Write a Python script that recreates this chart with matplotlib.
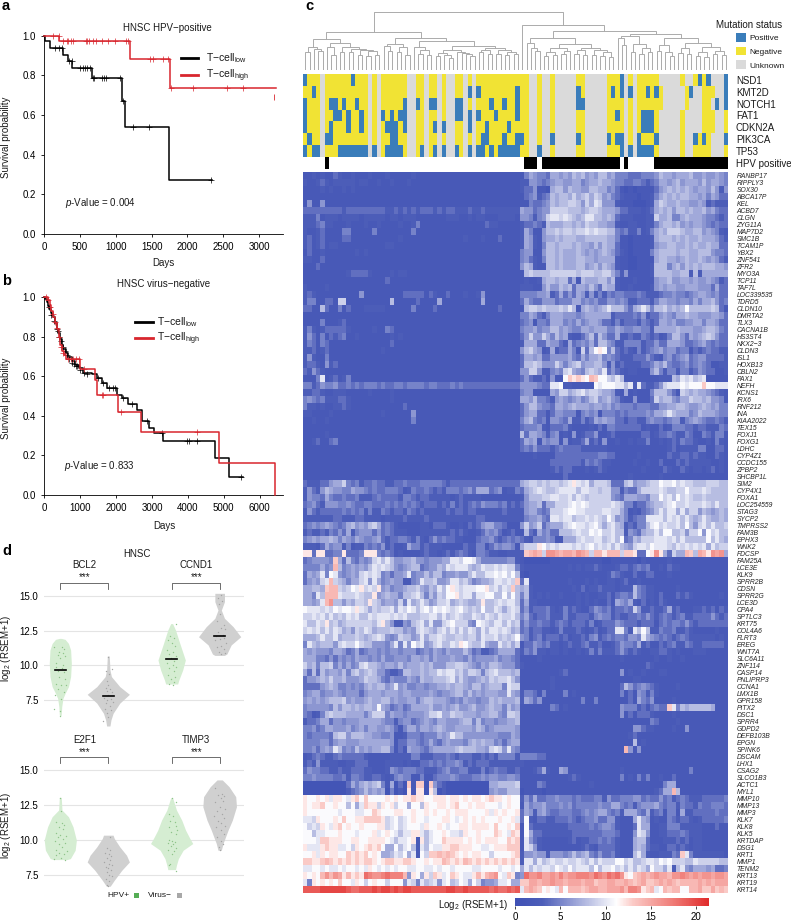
"""Four-panel HNSC figure: survival curves, mutation/expression heatmap, violins."""

from matplotlib.colors import LinearSegmentedColormap, ListedColormap
from matplotlib.cm import ScalarMappable
from matplotlib.colors import Normalize
from matplotlib.lines import Line2D
from matplotlib.patches import Rectangle
from matplotlib.transforms import Affine2D
import matplotlib
matplotlib.use("Agg")
import matplotlib.pyplot as plt
import numpy as np

plt.rcParams["font.family"] = ["Liberation Sans", "DejaVu Sans"]
plt.rcParams["mathtext.fontset"] = "custom"
plt.rcParams["mathtext.rm"] = "Liberation Sans"
plt.rcParams["mathtext.it"] = "Liberation Sans:italic"
plt.rcParams["mathtext.default"] = "regular"

W, H = 791, 921

# survival panel a
A_LOW_DAYS = [0, 10, 75, 265, 326, 391, 662, 1081, 1132, 1743, 2340]
A_LOW_SURV = [1.0, 0.971, 0.937, 0.905, 0.87, 0.835, 0.787, 0.673, 0.54, 0.27, 0.27]
A_LOW_CENS = [(149, 0.937), (210, 0.937), (252, 0.937), (345, 0.87), (382, 0.87), (499, 0.835),
              (536, 0.835), (573, 0.835), (601, 0.835), (638, 0.835), (675, 0.787), (694, 0.787),
              (801, 0.787), (834, 0.787), (862, 0.787), (1058, 0.787), (1104, 0.673),
              (1244, 0.54), (1463, 0.54), (2325, 0.27)]
A_HIGH_DAYS = [0, 210, 1197, 1757, 3239]
A_HIGH_SURV = [1.0, 0.975, 0.885, 0.738, 0.738]
A_HIGH_CENS = [(126, 1.0), (205, 1.0), (265, 0.975), (312, 0.975), (335, 0.975), (368, 0.975),
               (405, 0.975), (582, 0.975), (601, 0.975), (629, 0.975), (685, 0.975), (717, 0.975),
               (801, 0.975), (894, 0.975), (987, 0.975), (1141, 0.975), (1169, 0.975),
               (1476, 0.885), (1514, 0.885), (1663, 0.885), (1733, 0.885), (1770, 0.738),
               (2073, 0.738), (2557, 0.738), (2771, 0.738)]
A_STRAY_TICK = (3215, 0.69)

# survival panel b
B_LOW_DAYS = [0, 30, 70, 100, 140, 180, 220, 250, 300, 350, 390, 440, 490, 530, 600, 670, 760, 854,
              960, 1068, 1318, 1458, 1597, 1736, 2015, 2154, 2340, 2572, 2730, 2915, 3055, 3315,
              4754, 5153, 5543]
B_LOW_SURV = [1.0, 0.99, 0.975, 0.955, 0.94, 0.92, 0.91, 0.90, 0.87, 0.84, 0.82, 0.79, 0.76, 0.74,
              0.72, 0.70, 0.68, 0.66, 0.64, 0.615, 0.61, 0.59, 0.565, 0.54, 0.505, 0.49, 0.46,
              0.43, 0.375, 0.34, 0.313, 0.275, 0.185, 0.093, 0.093]
B_LOW_CENS = [(120, 0.95), (200, 0.91), (280, 0.88), (340, 0.84), (370, 0.83), (420, 0.80),
              (460, 0.78), (510, 0.75), (570, 0.73), (640, 0.71), (700, 0.69), (780, 0.67),
              (820, 0.665), (880, 0.655), (920, 0.65), (1000, 0.63), (1100, 0.615), (1200, 0.612),
              (1500, 0.59), (1640, 0.565), (1800, 0.54), (1900, 0.54), (1980, 0.54), (2200, 0.49),
              (2450, 0.46), (2850, 0.375), (3280, 0.313), (3980, 0.275), (4030, 0.275),
              (4260, 0.275), (5480, 0.093)]
B_HIGH_DAYS = [0, 100, 150, 200, 250, 300, 350, 400, 450, 500, 550, 600, 993, 1411, 1458, 2061,
               2702, 4865, 6425, 6425]
B_HIGH_SURV = [1.0, 0.985, 0.96, 0.93, 0.90, 0.87, 0.84, 0.80, 0.76, 0.73, 0.71, 0.69, 0.637,
               0.583, 0.506, 0.422, 0.317, 0.16, 0.16, 0.0]
B_HIGH_CENS = [(60, 1.0), (110, 0.985), (170, 0.95), (230, 0.915), (290, 0.875), (340, 0.845),
               (400, 0.80), (470, 0.75), (530, 0.72), (650, 0.69), (730, 0.69), (800, 0.69),
               (880, 0.69), (960, 0.69), (1100, 0.637), (1600, 0.506), (1640, 0.506), (2150, 0.422),
               (4260, 0.317)]

# heatmap
GENES = ["RANBP17", "RIPPLY3", "SOX30", "ABCA17P", "KEL", "ACBD7", "CLGN", "ZYG11A", "MAP7D2",
         "SMC1B", "TCAM1P", "YBX2", "ZNF541", "ZFR2", "MYO3A", "TCP11", "TAF7L", "LOC339535",
         "TDRD5", "CLDN10", "DMRTA2", "TLX3", "CACNA1B", "HS3ST4", "NKX2−3", "CLDN3", "ISL1",
         "HOXB13", "CBLN2", "PAX1", "NEFH", "KCNS1", "IRX6", "RNF212", "INA", "KIAA2022", "TEX15",
         "FOXJ1", "FOXG1", "LDHC", "CYP4Z1", "CCDC155", "ZPBP2", "SHCBP1L", "SIM2", "CYP4X1",
         "FOXA1", "LOC254559", "STAG3", "SYCP2", "TMPRSS2", "FAM3B", "EPHX3", "WNK2", "FDCSP",
         "FAM25A", "LCE3E", "KLK9", "SPRR2B", "CDSN", "SPRR2G", "LCE3D", "CPA4", "SPTLC3", "KRT75",
         "COL4A6", "FLRT3", "EREG", "WNT7A", "SLC6A11", "ZNF114", "CASP14", "PNLIPRP3", "CCNA1",
         "LMX1B", "GPR158", "PITX2", "DSC1", "SPRR4", "GDPD2", "DEFB103B", "EPGN", "SPINK6",
         "DSCAM", "LHX1", "CSAG2", "SLCO1B3", "ACTC1", "MYL1", "MMP10", "MMP13", "MMP3", "KLK7",
         "KLK8", "KLK5", "KRTDAP", "DSG1", "KRT1", "MMP1", "TENM2", "KRT13", "KRT19", "KRT14"]

# one character per cell, base 22: 0-9 then a=10 ... l=21 (log2 RSEM+1)
EXPR = [
 "2232322432 2322232223 2222232222 2222222222 2222222222 2576554776 7687867688 6755544455 5687767778 66766765",
 "3223432333 3323322322 3222322222 2222222222 2222222222 3366545677 6677567787 7655445543 4577678677 76867765",
 "2222323223 2322222222 2222222222 2222222222 2222222222 3446221788 6877668877 5642121222 2467878787 67768636",
 "2222222222 2222222222 2222222222 2222222222 2222222222 2456345878 8797897986 7543222122 3578787887 76757644",
 "2622622222 2222222222 2222222222 2222222222 2222222222 2254456878 8998697a96 6632221112 3798778776 67634333",
 "4444444443 4444444443 3434343444 3434433343 3433333333 7664566999 9888789987 7764433323 4787868878 77867544",
 "3335233323 3332333332 3323332222 2223332232 3322233332 6653569aa9 a9878aa887 8743332223 3977855787 77655434",
 "3334533222 3222322322 2232235222 2222222222 2243322222 3445438777 8878798877 6632233223 3578878676 77654544",
 "3223422225 5222225222 2222252222 2222222222 2222222222 3752268898 99899a9a99 8854533523 5787999877 88676532",
 "3423422224 4222222222 2232222222 2222222322 2322242222 3763267787 8887788888 7752212222 3788878787 78777643",
 "3423423322 2222222223 3222222222 2222222222 2222222222 3763258878 8878776868 7742212222 3677887787 87787744",
 "2422322222 2232322222 2222222222 2222222222 2222222222 5662268878 7778767678 7643212222 5788887887 78886554",
 "3322422222 2222222222 2222222222 2222222222 2222222222 5643258878 7778877677 7732211222 2788776787 78767643",
 "2224222222 2222222222 2222222222 2222222222 2222222222 6873228878 7778867868 7632211222 3888578687 87888776",
 "2222222222 3444432222 3233222222 2222222222 2222222222 2898888999 9998999889 9753622222 3888877883 83777777",
 "2222222222 2222222224 2222222222 2222222222 2222222222 2322378878 8472877788 6832223222 2677866776 76676534",
 "3222232222 2222222222 2222222222 2222222222 2222222222 3332268668 7847768648 7732232222 3676776677 76664744",
 "3432222222 2226222222 2224444424 3224222322 3622222222 5555667347 4647636353 5455444543 3345565545 67765644",
 "3552244299 2222222222 8222224222 2722222222 2722222222 4754466645 5577565644 6656533444 3577665665 75778645",
 "4422842252 4222333332 2222252222 4222222222 2222242222 2899898889 8a82787678 a8886478a8 58897878b8 88889842",
 "2222222222 2222222222 2222222222 2222222222 2222222222 5576435777 6665677777 7344445463 4467657787 76667764",
 "2222522234 2222222222 2222222222 2222222222 2222222222 4562554777 5657567764 4353444354 3477675566 77577644",
 "3532344444 3222223225 4222222222 2222222222 2222222222 5667566886 7655776777 5576556655 3777778777 66788754",
 "3642524345 2232222222 3232222222 2222222222 2222222222 4696697586 7322468486 4473343354 3423588647 67898644",
 "3542542222 2222222222 4222222222 2222222222 2222222222 3777447664 3745657488 6533555534 4644777644 56754544",
 "3342342222 2222222232 2222222222 2222222222 2222222222 6897623734 4752948bcb 5843432534 5675664552 43454433",
 "3632252222 2222222222 2222222222 2222222222 2222222222 4776744666 6754757785 6543334446 4325645674 56644443",
 "3443263422 2222222222 2222222222 2222222222 2222222222 4889866697 5789677886 3634333344 5768544564 56542233",
 "4364322222 2222222222 2222222222 2222222222 2222222222 6699633565 9a7658987a 4643233222 6853553553 46544223",
 "2225a23423 5222222222 2222222222 2222222222 2222222222 4643342622 bdcdcbedbb 98a8222222 2233387a9a 89a22222",
 "5534655644 5454555454 4554555545 5444545444 4444444444 6666544aab 3322222bab bbaa8a3a43 3469aaabab bbdbbaaa",
 "3344322333 2222232222 3222222222 2222222222 2222222222 5662222769 9789a89987 7632723222 5888642987 87765432",
 "5654533344 3222222222 3222222222 2222222222 2222222222 7768554367 6567568967 8653226222 4978865779 88786652",
 "5332322334 3222222222 2224222222 2222222222 2222222222 4688655477 6787776776 7565554555 4466778876 67876755",
 "3322223222 2222222232 2222262222 2222222222 2222222222 4677442466 5552565625 5545455556 5778a87775 68777655",
 "2232232222 2222222222 2222252222 2222222222 2222222222 5785452665 4733534767 6644244335 6554566356 76544543",
 "2222222222 2222222222 2222222222 2222222222 2222222222 4555632444 5322223242 5544444423 2242355544 34433354",
 "2222232222 2222222222 2222222222 2222222222 2222222222 8477653562 3262344622 3422222244 2344543354 22543552",
 "2234224522 2222222222 2222222222 2222222222 2222222222 4767265662 6233473426 2232232335 2232343544 32232532",
 "2222222222 2222222222 2222222222 2222222222 2222222222 4546444345 4444333333 2222222222 2222342333 35522442",
 "2222222222 2222222222 2222222222 2222222222 2222222222 2223222244 4444444455 4422222322 2222433443 43322432",
 "2222222222 2222222222 2222222222 2222222222 2222222222 2222222444 4444354543 3222223223 2242224343 33332232",
 "2222222222 2222222222 2222222222 2222222222 2222222222 2222222343 4422232343 2222222232 2224322432 33234232",
 "2222222222 2222222222 2222222222 2222222222 2222222222 2222222222 4222222222 2222232222 2232222222 22222222",
 "4333446779 5453445443 3445444555 5543444444 4444444444 7899898998 9aca9a7999 8444896778 99baab9a99 88899988",
 "3643687665 5766545445 5542354454 3435554564 7774562335 4789a9889a aaa8aa9989 9663544799 99a98899b9 99a98888",
 "3655475445 4453334544 4435543443 3333234333 3222222222 3688899aa9 9a8a989999 9654777665 88b9a8b9a9 88988888",
 "4564366655 6544554445 4545454344 4343534345 4655545343 4677847799 9ababa9999 9a98553446 7889ab99a9 99a98a88",
 "3643444445 4545353354 3443543433 3334344344 3333334333 3677545999 abbaa9999a a997523245 68a8aa7a79 96876787",
 "3333333443 3344333323 3334333343 3333333333 4433333333 3566754aa9 aa899a9a98 b96753455a aaa8a9a8a8 78a87787",
 "4565676545 7867689745 4322222332 4443223243 4677554222 6967946777 9abaa9ab97 9a87343558 ab9a99a8b8 69a8a889",
 "3433435464 7356664645 4333222333 3333434322 3465642342 2843756448 889a99bab9 9a88365478 8a8bb88969 9b6b9a88",
 "5676778757 6576556743 4455435324 6454433222 4556434545 4325556522 7779a99aa8 9a8b458799 9aaa9a8a88 888b8a87",
 "3332475663 5233545463 4223755343 3322222433 5524656652 7999cb9a9a aa9a9ab9a9 a8a8769aa9 baaa98a9a9 a9a7a899",
 "cc4cc4455c 4445ccc545 4232222343 3234345432 5543322333 3defe9ggfe ffegfe9eec eee9ddc44b cgc74977ed 8fecgfg7",
 "4566665d74 8546569a8a 8667786656 6677aa9bba 7555555663 2111111222 2222222221 1222222132 2222322222 22222222",
 "5555756e85 676768a9a9 8656788456 687a9aaa87 8a99a9a995 3222222222 2323233432 2234434545 2232433222 22222222",
 "4767a5ba65 6769a9a956 4667a56686 885667668a 88aabab9b8 2122222222 2222222222 3543224224 4222322222 22222222",
 "46769ae987 5779a6a756 7662256a88 9667aa8975 6778aa9a9d 4a22222222 2322232322 3323422322 2222222222 22222222",
 "77887dee98 9bac9a9c67 5667889768 7a8bca9aaa bbc9a8a9d8 7832222222 2232423343 3323338543 3222223222 22222222",
 "775a8eeea9 99a988c678 775889a858 698bbc9aa7 aabb88b8b8 5832323223 2223232233 4245548543 3242224343 22222232",
 "7767aeg886 87998c9867 7695a78a86 799a789877 8c889a9aa8 4733222222 2223232322 4276573242 3243222222 22222222",
 "baaa9a9bab baca979899 a7a9ba8ab9 baba9ab989 8b88a979a9 4634445323 5343224654 5344549633 4334734222 33434243",
 "99a9a8a898 a9a88a9aaa 9a9a88899a a8a89a988a 98a98a99a8 5743445333 5334443565 5343344546 4345434533 44446434",
 "a88a9c8978 9999998ac8 6336589a7a 669ab99965 ba98aa8a89 4644544345 4344435234 4465444344 4245455464 34444444",
 "9a9a8a8a97 8698a97888 9886769a98 79a8a8a8a9 7a8aa9a978 4534433235 3334323423 44aa53a8b8 3354453343 22222322",
 "7778a88a78 8898789a96 5698867a79 9a98899899 7a99a8989b 6534534443 4233435634 54554665a7 6545434543 33333232",
 "5a8788869a 99b9886665 7a5a6b9a67 9a88a9cb98 8a766a8979 2446545332 3433453342 2346554734 2243453354 33444442",
 "7676665776 4574566565 6656664565 7657666864 5334577774 3546332332 3223235353 3346434322 3344323222 33322222",
 "7775546465 6576656575 5666577675 7666766575 6666756654 2222322222 2222222222 2223222222 2322322322 22222222",
 "9785889575 7569a88767 7686777878 6668899876 5768876664 3222222222 2222222222 2222222224 3222222222 22222222",
 "7484867768 5897898664 3348877878 8a9aa89799 8589a88878 2222222223 4222222222 2226232232 2233222222 22222222",
 "4667879778 6667988754 6555765877 8889a79766 7879899a86 2222222322 2222222222 2222223322 2222222222 22222222",
 "4444678755 6565787886 7a67556656 6778788768 8678885a99 2222222322 2222222222 2224864565 4322223222 22222222",
 "5677566765 6664677767 7767766667 6566788686 7677766a76 3554252222 5232222222 2225242653 5322222222 22222222",
 "6767678889 6766787788 6766775788 7776565766 5668787778 3764622222 2222522522 2222242754 6222232222 22222222",
 "5666665868 8787887b76 4564577778 6676786678 6678775867 2222222542 3222222222 2226555342 4544da5878 88887222",
 "5423589888 7777579995 7665666679 9a77988777 6778865998 2222222222 2222222222 2226242444 3222232222 22222222",
 "3445774665 6667777765 5356645676 5776667885 8566566778 2222222222 2222222222 2222222222 5422223222 22222222",
 "5564577666 7567577667 6425775776 7876677776 8756777776 2222222222 2222222222 2222226643 3222232262 22222222",
 "5455554899 6888776655 6223555455 5767a88666 6666655576 2222222222 2222222222 2222234222 2222222222 22222222",
 "5555664677 6667777777 6244665457 5467666578 7877564677 2222222222 2222222222 2222228232 2222222222 22222222",
 "5564676a85 6586767788 5242766546 7777789888 7769a96a65 2222222222 2222222222 2222e62622 2222222222 22222222",
 "2345433454 4444322222 3333355333 4445434443 3434355553 5555442222 2222222222 2222222222 2222222222 22222222",
 "3436333322 3344422223 3332322445 4545565343 4443333333 3222222222 2222222222 2222222222 2222222222 22222222",
 "4655443343 3444332223 6545554433 3456445533 3534544334 2223473227 6222222222 2223222222 2222222225 22222222",
 "5565555445 3554334432 3565522522 4555654445 5656655665 2222222222 2343222222 2225232535 2232242222 22222222",
 "1111111111 4757878952 7141d2dd1d 6431111111 1117788889 2222542222 2222223222 2222222222 2225772222 22222222",
 "1111111111 3456867671 5131c2cc1c 8131111111 1116766888 1222212222 2222222222 2222222222 23477e8222 22222222",
 "cbbcbcaccb acdbdbbbbc bcbccdccbb cccbccbcbc cbcdccbcbb 3647445565 5545444553 6445556645 4464534543 33444445",
 "cbccdbbcbb 8b7adcc9cb c9bb7bb8cb bccbcdbbcb ccbbbabcbb 2756675556 5645555565 5775453566 6754553544 35445554",
 "cbbbbbbbab bbaabbdcbb bccbbcbbcb cbbcbcccbb bbcacbcbbc 4763675445 5544565677 5453777547 3452552733 44444544",
 "aa9cbbbcbd bbccddddc9 ab9abcbbab bbccbabcbc bcbbbcbbca 4b32443344 4543455644 6632227a76 2322543443 23444445",
 "b9a9cbacdb cbbcbbbcc9 ab9abbbacb bcbabbccbc cccbdbbcbd 2b43333333 3444445456 6532224a77 2233555333 33222422",
 "bb8aabbbcb bbabbbcabc ba8aacca8a bbcbaa9cbb cbbbdcbadc 2b74433333 3344444445 5542226a96 2233444543 33222222",
 "bbbaddcccb bccbbccccb a8aabc2c8a bbdccccbcb cbcccbbdcd 2a64322222 2342334454 5432227884 2223334342 33222222",
 "caaacdccaa b9cbcdcdb7 7b8ab82a8b aaccddcccb baabcccddd 2a96322222 2222343244 4432227874 3322443432 33222222",
 "bbcacbccbb dcdcdbcb77 8a9b7a2b9d dededcbcbc cbb9bbbbcd 3667663666 5686785464 4532228a73 2233354da5 33333332",
 "ddccdedcdc dcdcddcbcd dccddcbbcb ccedcdcedc dcdcdcdcdc 3aa7a89a99 a99a98a8a9 99bb9a889a a9bab99988 a9999988",
 "aabbabaaba bbabacbaba babbaabbaa babbabbbba abbbbabbab 7a8a9aa9ba 9b9aaa8b8a ab9a8a8a97 b997a38a65 77767445",
 "cbcbegegfc ecdcihgghi hhhe6cb7c9 dcabdcbaac ecefgbadc5 6igghffgfh fgghhhgihg ihigcbdefe fgffegghgf gfggfggf",
 "a5cbcbcbdb bacb9bcbb9 bbb6a95a89 a6ab89ba7b 95667aab77 ddffeffgff efffeffdee ffeefedefd defefedeee efefefff",
 "jjjjkkkkkk jiijjjkjkk jkjkkjjjjj jjjkkjjkjj jjjijiijij aefedbcbae beeedeffee fffgehhgcd eabedeebbe efddfded",
]

# mutation tracks, one character per sample: P positive, N negative, U unknown
TRACKS = ["NSD1", "KMT2D", "NOTCH1", "FAT1", "CDKN2A", "PIK3CA", "TP53"]
MUTATION = [
 "PNNNUNNNNN NPNNNUNUNN NNNNUUNNUN NUNUUNNUNU NNNNNNNNNN NNUUNUUNUU UUUNNUUUUU NNNPUNUNNN NNUUUUUNUU NPNPUUUP",
 "NNPNUNNNNN NNNNNUNUNN NNNNUUNNUN NUNUUNNUPU PNNNNNNNNP NNUUNUUNUU UUUPNUUUUU NPNPUPUNNP NPNUUUUUNP UUNNNUUP",
 "PNNNUNPPNP NNPNNUNUNN NNNPUUPNUP PUNUUPPUNU NNNPNNPNNP NNUUNUUNUU UUUPPUUUUU NNNNUNUNNN NNNUUUUUNU UUNNUPUP",
 "PNNNUNNPPN PNNPNUNUPN PNPPUUNNUN NUNUUPPUPU PNNNPNNNNP NNUUNUUNUU UUUNNUUUUU NNPNUNUNPP PNUUUUUNUU UUNNNUUN",
 "PNNNUNPNNN PNNPNUNUNP PPNPUUNNUN PUPUUNNUPU NNPNNNNPNN NNUUNUUNUU UUUNNUUUUU NNNNUNUNPP PNUUUUUNUU UUNNNUUN",
 "NPNNUPPNNN NNNNNUNUNN PPNNUUNNUN NUNUUNNUNU NPPNNNPNNP PNUUNUUPUU UUUPNUUUUU PNPPUNUPNN NPUUUUUNUU PNPNUUUP",
 "PNPPUNNNPP PPPPPUPUNP PPPNUUNPUN PUPUUPNUPU PPNPNPPPPP NNUUPUUNUU UUUNNUUUUU NNNPUPUPPP PNUUUUUNUU NNNNUUUN",
]
HPV_POS = [5, 51, 52, 53] + list(range(55, 73)) + [74] + list(range(81, 98))

# dendrogram, node = (height in px above the leaves, left, right), 0 = leaf
DEND_LEFT = (38.3,
    (30.7,
        (23, (18, 0, 0), (20.5, 0, (19, 0, 0))),
        (27, (23, 0, (15, 0, 0)),
            (22.5, (18, 0, 0),
                (20.5, (18, 0, 0), (19.5, (15, 0, 0), (19, (14, 0, 0), (15, 0, 0))))))),
    (31.7,
        (25.7, (24, 0, (19, 0, 0)), (23, (18, 0, 0), (15, 0, 0))),
        (29,
            (23, 0, (20, (16, 0, 0), (15, 0, 0))),
            (24.3,
                (20, (17, (14, 0, 0), (15, 0, (12, 0, 0))), (18, 0, (16.5, 0, (15.5, 0, (14, 0, 0))))),
                (22, (20, (18, 0, 0), (16, 0, 0)), (20, (16, 0, 0), (18, (15, 0, 0), (16, 0, 0)))))))
)
DEND_RIGHT = (45, 0,
    (39,
        (31.7,
            (26.7, 0, (22, 0, (19, 0, 0))),
            (25.7,
                (21.7, (18, (14, 0, 0), (15, 0, 0)), (19, (16, 0, 0), 0)),
                (21.7, (20, (16, 0, 0), (15, 0, 0)), (19.5, (15, 0, 0), (18, (14, 0, 0), (13, 0, 0)))))),
        (36,
            (34.3,
                (31.7, 0, (25.3, 0, 0)),
                (25.7, (18, 0, 0), (22, (16, 0, 0), (18, 0, 0)))),
            (31.7,
                (25, (19, 0, 0), (18, 0, (14, 0, 0))),
                (26.7,
                    (22, (17, 0, 0), (16, 0, 0)),
                    (23, (18, (14, 0, 0), (13, 0, 0)), (19, (16, 0, 0), (15, 0, 0)))))))
)
DEND_ROOT = 57.7

# violin outlines as (log2 value, half width) and jittered samples as (offset, log2 value)
BCL2_POS = [(11.94, 0.02), (11.87, 0.1), (11.58, 0.17), (11.11, 0.215), (10.15, 0.23), (9.2, 0.215),
            (8.48, 0.17), (8.0, 0.1), (7.64, 0.055), (7.05, 0.03), (6.45, 0.02), (6.38, 0.0)]
BCL2_NEG = [(10.68, 0.02), (9.67, 0.035), (9.2, 0.065), (8.48, 0.24), (7.93, 0.44), (7.3, 0.24),
            (6.57, 0.1), (6.09, 0.055), (5.66, 0.035)]
CCND1_POS = [(13.0, 0.02), (12.54, 0.08), (11.58, 0.17), (10.39, 0.285), (9.67, 0.23), (8.96, 0.15),
             (8.67, 0.125)]
CCND1_NEG = [(15.17, 0.1), (14.57, 0.1), (13.97, 0.035), (13.38, 0.1), (12.78, 0.28), (12.06, 0.44),
             (11.47, 0.24), (10.82, 0.15), (10.72, 0.1)]
E2F1_POS = [(13.06, 0.02), (12.15, 0.035), (11.67, 0.17), (10.95, 0.265), (10.0, 0.335), (9.27, 0.31),
            (8.67, 0.21), (8.6, 0.14)]
E2F1_NEG = [(10.35, 0.1), (10.11, 0.125), (9.51, 0.24), (8.91, 0.38), (8.43, 0.44), (7.83, 0.28),
            (7.12, 0.125), (6.69, 0.04)]
TIMP3_POS = [(13.03, 0.02), (12.15, 0.1), (11.43, 0.21), (10.71, 0.29), (10.11, 0.38), (9.75, 0.44),
             (9.27, 0.24), (8.67, 0.14), (8.2, 0.1), (7.88, 0.08)]
TIMP3_NEG = [(14.31, 0.055), (13.83, 0.195), (13.11, 0.335), (12.39, 0.35), (11.43, 0.265), (10.71, 0.175),
             (9.75, 0.07), (9.27, 0.035)]

BCL2_POS_PTS = [(-0.14, 11.3), (0.03, 11.35), (0.07, 11.2), (-0.02, 11.0), (0.05, 10.9), (-0.04, 10.75),
                (0.09, 10.7), (0.0, 10.5), (-0.08, 10.2), (0.06, 10.0), (-0.1, 9.9), (0.03, 9.8),
                (-0.05, 9.6), (0.08, 9.5), (-0.02, 9.2), (0.1, 9.0), (-0.09, 8.7), (0.02, 8.6),
                (0.11, 8.6), (-0.04, 8.3), (0.07, 8.1), (-0.12, 7.9), (0.01, 7.6), (-0.01, 6.7),
                (-0.14, 6.85), (0.0, 6.4)]
BCL2_NEG_PTS = [(0.0, 10.6), (0.08, 9.75), (-0.04, 9.6), (0.02, 9.4), (-0.02, 8.9), (0.0, 8.6), (-0.05, 8.4),
                (0.04, 8.3), (-0.03, 8.2), (0.08, 8.1), (0.0, 7.9), (-0.08, 7.7), (0.05, 7.6), (-0.02, 7.5),
                (0.1, 7.4), (-0.05, 7.3), (0.03, 7.1), (-0.07, 6.9), (0.06, 6.8), (-0.02, 6.6), (0.0, 6.3),
                (-0.12, 6.0)]
CCND1_POS_PTS = [(0.1, 13.0), (-0.03, 12.1), (0.05, 12.0), (-0.08, 11.8), (0.0, 11.6), (0.06, 11.4),
                 (-0.1, 11.1), (0.03, 11.0), (-0.05, 10.8), (0.09, 10.7), (-0.02, 10.5), (0.05, 10.3),
                 (-0.09, 10.2), (0.02, 10.0), (0.1, 9.9), (-0.05, 9.8), (0.04, 9.6), (-0.07, 9.3),
                 (0.07, 9.2), (-0.02, 9.0), (0.05, 8.8), (-0.06, 8.7), (0.02, 8.6)]
CCND1_NEG_PTS = [(0.02, 15.05), (-0.04, 14.8), (0.05, 14.6), (-0.02, 14.4), (0.01, 13.7), (-0.05, 13.2),
                 (0.1, 12.9), (0.02, 12.7), (0.12, 12.6), (-0.04, 12.4), (0.07, 12.2), (-0.08, 12.1),
                 (0.1, 12.0), (0.01, 11.9), (-0.1, 11.8), (0.14, 11.6), (0.03, 11.4), (-0.05, 11.3),
                 (0.09, 11.2), (-0.02, 11.0), (0.12, 10.9), (0.02, 10.8)]
E2F1_POS_PTS = [(0.0, 13.0), (0.02, 12.1), (-0.08, 11.3), (0.03, 11.25), (0.08, 11.1), (-0.03, 10.95),
                (0.05, 10.8), (-0.1, 10.5), (0.0, 10.35), (0.12, 10.3), (-0.05, 10.2), (0.05, 10.05),
                (-0.12, 9.9), (0.1, 9.8), (-0.02, 9.7), (0.03, 9.5), (-0.1, 9.3), (0.14, 9.2),
                (-0.03, 9.1), (0.08, 9.0), (-0.09, 8.9), (0.02, 8.7), (-0.13, 8.65), (0.1, 8.6)]
E2F1_NEG_PTS = [(0.03, 10.2), (-0.02, 9.4), (0.04, 9.3), (-0.06, 9.1), (0.01, 9.0), (0.06, 8.85), (-0.03, 8.7),
                (0.04, 8.55), (-0.08, 8.4), (0.02, 8.3), (0.07, 8.2), (-0.05, 8.1), (0.0, 8.0), (0.05, 7.85),
                (-0.03, 7.7), (0.02, 7.5), (0.08, 7.4), (-0.05, 7.2), (0.01, 7.05), (-0.02, 6.8), (0.0, 6.7)]
TIMP3_POS_PTS = [(0.01, 13.0), (0.08, 12.75), (-0.05, 11.9), (0.03, 11.7), (-0.03, 11.4), (0.07, 11.3),
                 (0.1, 11.0), (-0.06, 10.9), (0.11, 10.7), (-0.02, 10.6), (0.09, 10.4), (-0.05, 10.0),
                 (0.0, 9.9), (0.06, 9.85), (-0.07, 9.8), (0.03, 9.7), (-0.02, 9.6), (0.1, 9.4), (-0.08, 9.3),
                 (0.05, 9.2), (0.0, 9.0), (-0.03, 8.3), (-0.05, 8.2), (0.1, 7.8)]
TIMP3_NEG_PTS = [(-0.1, 13.7), (0.05, 13.3), (-0.03, 13.2), (0.1, 13.15), (0.03, 13.0), (0.07, 12.8), (-0.1, 12.7),
                 (0.0, 12.4), (0.12, 12.2), (-0.05, 12.1), (0.05, 11.9), (-0.12, 11.7), (0.1, 11.6),
                 (-0.03, 11.4), (0.03, 11.2), (0.12, 11.0), (-0.08, 10.9), (0.02, 10.7), (0.08, 10.4),
                 (-0.06, 10.2), (0.02, 9.9), (0.06, 9.7), (-0.02, 9.5), (0.0, 9.3)]

VIOLIN_GENES = ["BCL2", "CCND1", "E2F1", "TIMP3"]
MEDIANS_TOP = [9.65, 7.83, 10.47, 12.08]

BLUE = "#3f51b5"
HEAT = LinearSegmentedColormap.from_list("heat", [
    (0.0, BLUE), (3 / 21.4, "#4d5eb9"), (6 / 21.4, "#8d97d2"), (8.5 / 21.4, "#c3c8e7"),
    (11.2 / 21.4, "#ffffff"), (13 / 21.4, "#fbcbc7"), (17.5 / 21.4, "#ef7a75"), (1.0, "#e02b2b")])
STATUS_COLORS = {"P": "#3a7dba", "N": "#f1e334", "U": "#dadada"}
RED = "#d8262e"
GREEN_FILL = "#d5edd2"
GREY_FILL = "#d0d0d0"


def axes_px(fig, x0, y0, x1, y1):
    return fig.add_axes([x0 / W, 1 - y1 / H, (x1 - x0) / W, (y1 - y0) / H])


def survival(fig, box, xlim, xticks, low, high, low_cens, high_cens):
    ax = axes_px(fig, *box)
    ax.step(low[0], low[1], where="post", color="black", lw=1.1, clip_on=False, zorder=3)
    ax.step(high[0], high[1], where="post", color=RED, lw=1.1, clip_on=False, zorder=4)
    for cens, col, z in ((low_cens, "black", 3), (high_cens, RED, 4)):
        ax.plot([c[0] for c in cens], [c[1] for c in cens], ls="none", marker="+", ms=4,
                mew=0.5, color=col, clip_on=False, zorder=z)
    ax.set_xlim(*xlim)
    ax.set_ylim(0, 1)
    ax.set_xticks(xticks)
    ax.set_yticks([0, 0.2, 0.4, 0.6, 0.8, 1.0])
    ax.tick_params(labelsize=7, length=2.5, width=0.6, pad=3.5)
    for side in ("top", "right"):
        ax.spines[side].set_visible(False)
    ax.spines["left"].set_linewidth(0.6)
    ax.spines["bottom"].set_linewidth(0.6)
    return ax


def draw_node(ax, node, next_leaf):
    """Draw a subtree, return (x of node, height, next free leaf)."""
    if node == 0:
        return next_leaf + 0.5, 0, next_leaf + 1
    h, a, b = node
    xa, ha, next_leaf = draw_node(ax, a, next_leaf)
    xb, hb, next_leaf = draw_node(ax, b, next_leaf)
    ax.plot([xa, xa, xb, xb], [ha, h, h, hb], color="#ababab", lw=0.7, solid_joinstyle="miter")
    return (xa + xb) / 2, h, next_leaf


def violins(ax, profiles, points, fills, dots, xpos):
    for prof, pts, fill, dot, x in zip(profiles, points, fills, dots, xpos):
        ys = [p[0] for p in prof]
        hw = np.array([p[1] for p in prof])
        ax.fill_betweenx(ys, x - hw, x + hw, color=fill, lw=0, zorder=2)
        ax.scatter([x + p[0] for p in pts], [p[1] for p in pts], s=1.0, color=dot, lw=0, zorder=3)


def main():
    fig = plt.figure(figsize=(W / 100, H / 100), dpi=100)
    px = Affine2D().scale(1 / W, -1 / H).translate(0, 1) + fig.transFigure

    def label(x, y, s, size=7, ha="center", va="center", **kw):
        fig.text(x, y, s, transform=px, fontsize=size, ha=ha, va=va, color=kw.pop("color", "#1a1a1a"), **kw)

    def line(xs, ys, **kw):
        fig.add_artist(Line2D(xs, ys, transform=px, **kw))

    def box(x0, y0, x1, y1, color):
        fig.add_artist(Rectangle((x0, y0), x1 - x0, y1 - y0, transform=px, fc=color, ec="none"))

    # panel a
    ax = survival(fig, (44.3, 35.7, 283.3, 234), (0, 3339), [0, 500, 1000, 1500, 2000, 2500, 3000],
                  (A_LOW_DAYS, A_LOW_SURV), (A_HIGH_DAYS, A_HIGH_SURV), A_LOW_CENS, A_HIGH_CENS)
    ax.plot(*A_STRAY_TICK, ls="none", marker="|", ms=4, mew=0.6, color=RED)
    label(167, 28, "HNSC HPV−positive")
    label(163, 262.5, "Days")
    label(6.5, 137, "Survival probability", rotation=90)
    label(65, 203, "$\\mathit{p}$-Value = 0.004", ha="left")
    line([180.7, 198], [58.3, 58.3], color="black", lw=2)
    line([180.7, 198], [75.3, 75.3], color=RED, lw=2)
    label(205.5, 58.5, "T−cell$_{low}$", ha="left", size=7.5)
    label(205.5, 75.5, "T−cell$_{high}$", ha="left", size=7.5)

    # panel b
    survival(fig, (44.3, 297.3, 283.3, 495), (0, 6658), [0, 1000, 2000, 3000, 4000, 5000, 6000],
             (B_LOW_DAYS, B_LOW_SURV), (B_HIGH_DAYS, B_HIGH_SURV), B_LOW_CENS, B_HIGH_CENS)
    label(164, 284, "HNSC virus−negative")
    label(164, 525.5, "Days")
    label(6.5, 398, "Survival probability", rotation=90)
    label(64, 465.7, "$\\mathit{p}$-Value = 0.833", ha="left")
    line([135, 152.7], [321.7, 321.7], color="black", lw=2)
    line([135, 152.7], [338.3, 338.3], color=RED, lw=2)
    label(157, 322, "T−cell$_{low}$", ha="left", size=7.5)
    label(157, 338.5, "T−cell$_{high}$", ha="left", size=7.5)

    # panel c: dendrogram
    ax = axes_px(fig, 303.3, 10, 728.3, 70)
    xl, hl, nxt = draw_node(ax, DEND_LEFT, 0)
    xr, hr, nxt = draw_node(ax, DEND_RIGHT, nxt)
    ax.plot([xl, xl, xr, xr], [hl, DEND_ROOT, DEND_ROOT, hr], color="#ababab", lw=0.7)
    ax.set_xlim(0, 98)
    ax.set_ylim(0, 60)
    ax.axis("off")

    # mutation tracks
    ax = axes_px(fig, 303.3, 74, 728.3, 156.7)
    statuses = "PNU"
    grid = [[statuses.index(c) for c in "".join(r.split())[:98].ljust(98, "U")] for r in MUTATION]
    ax.imshow(grid, aspect="auto", interpolation="nearest",
              cmap=ListedColormap([STATUS_COLORS[s] for s in statuses]), vmin=0, vmax=2)
    ax.set_xticks([])
    ax.set_yticks(range(len(TRACKS)), TRACKS, fontsize=7, color="#1a1a1a")
    ax.tick_params(length=0, pad=5.5)
    ax.yaxis.tick_right()
    for s in ax.spines.values():
        s.set_visible(False)

    ax = axes_px(fig, 303.3, 157, 728.3, 169)
    hpv = np.zeros((1, 98))
    hpv[0, HPV_POS] = 1
    ax.imshow(hpv, aspect="auto", interpolation="nearest", cmap=ListedColormap(["white", "black"]))
    ax.set_xticks([])
    ax.set_yticks([0], ["HPV positive"], fontsize=7, color="#1a1a1a")
    ax.tick_params(length=0, pad=5.5)
    ax.yaxis.tick_right()
    for s in ax.spines.values():
        s.set_visible(False)

    # expression heatmap
    digits = "0123456789abcdefghijkl"
    values = []
    for r in EXPR:
        r = "".join(r.split())
        values.append([digits.index(c) for c in r[:98].ljust(98, r[-1])])
    ax = axes_px(fig, 303.3, 171.7, 728.3, 892.7)
    ax.imshow(values, aspect="auto", interpolation="nearest", cmap=HEAT, vmin=0, vmax=21.4)
    ax.set_xticks([])
    ax.set_yticks(range(len(GENES)), GENES, fontsize=4.9, style="italic", color="#222222")
    ax.tick_params(length=0, pad=5.8)
    ax.yaxis.tick_right()
    for s in ax.spines.values():
        s.set_visible(False)

    # colour bar
    cax = axes_px(fig, 515, 898.3, 709, 906)
    cb = fig.colorbar(ScalarMappable(Normalize(0, 21.4), HEAT), cax=cax, orientation="horizontal")
    cb.set_ticks([0, 5, 10, 15, 20])
    cb.ax.tick_params(labelsize=7, length=2, width=0.5, pad=2.5)
    cb.outline.set_visible(False)
    label(508.5, 905, "Log$_2$ (RSEM+1)", ha="right", va="center")

    # mutation legend
    label(715.5, 25, "Mutation status", ha="left", size=7)
    for name, col, y0 in (("Positive", "P", 33.5), ("Negative", "N", 47), ("Unknown", "U", 60.5)):
        box(736, y0, 745.5, y0 + 8.5, STATUS_COLORS[col])
        label(749.5, y0 + 5.5, name, ha="left", size=6)

    # panel d
    xpos = [0, 1, 2.32, 3.32]
    fills = [GREEN_FILL, GREY_FILL, GREEN_FILL, GREY_FILL]
    dots = ["#8ec48a", "#a5a5a5", "#8ec48a", "#a5a5a5"]
    rows = (
        ((44, 590, 244, 730), 15, 595.7, [BCL2_POS, BCL2_NEG, CCND1_POS, CCND1_NEG],
         [BCL2_POS_PTS, BCL2_NEG_PTS, CCND1_POS_PTS, CCND1_NEG_PTS]),
        ((44, 765, 244, 892), 15, 770.3, [E2F1_POS, E2F1_NEG, TIMP3_POS, TIMP3_NEG],
         [E2F1_POS_PTS, E2F1_NEG_PTS, TIMP3_POS_PTS, TIMP3_NEG_PTS]),
    )
    scale = 13.95
    for i, (bx, top, top_px, profiles, points) in enumerate(rows):
        ax = axes_px(fig, *bx)
        ax.set_xlim((bx[0] - 60.3) / 48, (bx[2] - 60.3) / 48)
        ax.set_ylim(top - (bx[3] - top_px) / scale, top + (top_px - bx[1]) / scale)
        ax.set_yticks([7.5, 10, 12.5, 15], ["7.5", "10.0", "12.5", "15.0"])
        ax.set_xticks([])
        ax.tick_params(labelsize=7, length=0, pad=4)
        ax.grid(axis="y", color="#e4e4e4", lw=0.8)
        ax.set_axisbelow(True)
        for s in ax.spines.values():
            s.set_visible(False)
        violins(ax, profiles, points, fills, dots, xpos)
        if i == 0:
            for x, m in zip(xpos, MEDIANS_TOP):
                ax.plot([x - 0.115, x + 0.115], [m, m], color="black", lw=1.2, zorder=4)

    for col, x_a, x_b in ((0, 60.3, 108.3), (1, 171.7, 219.7)):
        for row, y_name, y_star, y_br in ((0, 565, 576.5, 582.5), (1, 740.3, 751.5, 756.7)):
            xm = (x_a + x_b) / 2
            label(xm + 0.5, y_name, VIOLIN_GENES[row * 2 + col])
            label(xm + 0.5, y_star + 1, "***", size=7)
            line([x_a, x_a, x_b, x_b], [y_br + 6.5, y_br, y_br, y_br + 6.5], color="#555555", lw=0.6)

    label(137, 553.5, "HNSC")
    label(6.5, 648, "log$_2$ (RSEM+1)", rotation=90)
    label(6.5, 825, "log$_2$ (RSEM+1)", rotation=90)
    label(107, 895, "HPV+", ha="left", size=6)
    box(134, 893, 139, 898, "#55ad55")
    label(148, 895, "Virus−", ha="left", size=6)
    box(176.5, 893, 181.5, 898, "#a8a8a8")

    # panel letters
    for s, x, y in (("a", 2, 10), ("b", 2, 285), ("c", 305, 9.5), ("d", 2, 555)):
        label(x, y, s, size=10.5, ha="left", va="baseline", weight="bold", color="black")

    fig.savefig("out.png", dpi=100)
    plt.close(fig)


if __name__ == "__main__":
    main()
